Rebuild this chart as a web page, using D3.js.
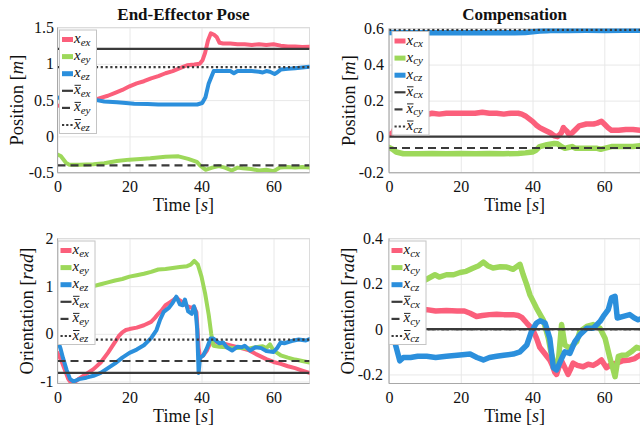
<!DOCTYPE html>
<html><head><meta charset="utf-8">
<script src="https://cdn.jsdelivr.net/npm/d3@7/dist/d3.min.js"></script>
<style>
body{margin:0;background:#fff}
svg{display:block}
</style>
</head><body>
<svg id="c" width="640" height="428"></svg>
<script>
// ---------------- DATA ----------------
const timeTicks = [0, 20, 40, 60];
const eePosTicks = [-0.5, 0, 0.5, 1, 1.5];
const compPosTicks = [-0.2, 0, 0.2, 0.4, 0.6];
const eeOriTicks = [-1, 0, 1, 2];
const compOriTicks = [-0.2, 0, 0.2, 0.4];

// End-effector position [t, value]
const eePosX = [[0,0.42],[2,0.44],[4,0.46],[6,0.47],[8,0.48],[10,0.5],[12,0.53],[14,0.56],[16,0.6],[18,0.64],[20,0.69],[22,0.73],[24,0.76],[26,0.8],[28,0.83],[30,0.87],[32,0.9],[34,0.94],[36,0.98],[38,0.99],[39.5,1.0],[40.3,1.05],[41,1.15],[41.8,1.32],[42.6,1.42],[43.5,1.4],[44.2,1.37],[45,1.29],[46,1.28],[48,1.28],[50,1.27],[52,1.27],[54,1.26],[56,1.27],[58,1.26],[60,1.27],[62,1.25],[64,1.24],[66,1.24],[68,1.23],[70,1.235]];
const eePosY = [[0,-0.25],[0.9,-0.27],[2.3,-0.36],[3.2,-0.39],[6,-0.39],[10,-0.385],[13,-0.37],[16.5,-0.34],[20,-0.32],[23,-0.31],[25.8,-0.3],[30,-0.28],[33.6,-0.275],[36.3,-0.31],[38.7,-0.35],[39.6,-0.4],[41.1,-0.46],[43,-0.43],[44.8,-0.41],[46.5,-0.43],[48.4,-0.47],[50,-0.43],[51.5,-0.44],[53.8,-0.45],[56,-0.47],[58,-0.46],[60,-0.48],[61.8,-0.43],[64,-0.42],[66,-0.43],[68,-0.42],[70,-0.43]];
const eePosZ = [[0,0.535],[2,0.52],[4,0.51],[6,0.51],[8,0.5],[10.9,0.5],[13,0.48],[16.5,0.47],[19,0.46],[21.3,0.45],[25,0.445],[28,0.44],[30,0.44],[34,0.44],[38.8,0.44],[40.2,0.46],[41.1,0.54],[42,0.73],[43.4,0.9],[45,0.9],[47,0.9],[48,0.9],[49,0.87],[50,0.9],[52,0.9],[54,0.9],[56,0.89],[57,0.88],[58,0.9],[59,0.89],[60.3,0.86],[61,0.88],[62,0.92],[64,0.93],[66,0.94],[68,0.95],[70,0.96]];
const eePosRef = [1.205, -0.40, 0.953];

// Compensation position
const compPosX = [[0,0.01],[1,0.02],[2,0.06],[3,0.09],[4,0.11],[6,0.12],[8,0.12],[10,0.12],[12,0.13],[14,0.125],[16,0.13],[18,0.13],[20,0.13],[22,0.13],[24,0.13],[26,0.135],[28,0.13],[30,0.13],[32,0.125],[34,0.13],[36,0.13],[37,0.125],[38,0.115],[39,0.1],[40,0.085],[41,0.065],[42,0.05],[43,0.04],[44,0.03],[45,0.02],[46,0.005],[47,0.0],[48,0.02],[48.6,0.05],[49,0.04],[49.6,0.03],[50.2,0.01],[51,0.02],[52,0.04],[53,0.06],[55,0.07],[57,0.07],[58,0.075],[59.2,0.085],[60,0.07],[61,0.05],[62,0.035],[64,0.035],[66,0.04],[68,0.04],[70,0.035]];
const compPosY = [[0,-0.06],[1,-0.07],[2,-0.085],[4,-0.095],[8,-0.095],[12,-0.093],[16,-0.095],[20,-0.094],[24,-0.095],[28,-0.093],[32,-0.095],[36,-0.093],[38,-0.09],[40,-0.085],[41,-0.075],[42,-0.055],[44,-0.045],[46,-0.038],[47,-0.04],[48,-0.055],[49,-0.065],[50,-0.06],[51,-0.055],[52,-0.065],[55,-0.065],[58,-0.065],[59,-0.07],[60,-0.065],[62,-0.055],[65,-0.055],[68,-0.055],[70,-0.05]];
const compPosZ = [[0,0.578],[5,0.577],[10,0.576],[15,0.577],[20,0.576],[25,0.577],[30,0.576],[35,0.577],[38,0.578],[40,0.582],[42,0.586],[44,0.588],[46,0.59],[50,0.589],[55,0.59],[60,0.589],[65,0.59],[70,0.59]];
const compPosRef = [0.0, -0.063, 0.592];

// End-effector orientation
const eeOriX = [[0,-0.4],[1,-0.55],[2,-0.75],[3,-0.95],[4,-1.05],[5,-1.0],[6,-0.94],[8,-0.84],[10,-0.74],[12,-0.6],[14,-0.4],[16,-0.17],[17,-0.05],[18,0.03],[19,0.08],[20,0.1],[22,0.13],[24,0.18],[26,0.25],[27,0.33],[28,0.42],[29,0.5],[30,0.6],[31,0.65],[32,0.7],[33,0.76],[34,0.7],[35,0.65],[36,0.58],[37,0.55],[38,0.55],[38.6,0.45],[39.2,-0.3],[39.6,-0.5],[40.5,-0.45],[41.5,-0.35],[42.5,-0.18],[43.5,-0.15],[45,-0.2],[47,-0.22],[50,-0.28],[53,-0.34],[55,-0.42],[58,-0.53],[60,-0.59],[62,-0.63],[64,-0.68],[66,-0.72],[68,-0.77],[70,-0.82]];
const eeOriY = [[0,0.68],[2,0.75],[4,0.85],[6,0.92],[8,0.97],[10,1.0],[12,1.04],[14,1.08],[16,1.12],[18,1.15],[20,1.2],[22,1.23],[24,1.26],[26,1.3],[28,1.35],[30,1.36],[32,1.38],[34,1.4],[36,1.42],[37,1.45],[38,1.53],[39,1.45],[40,1.2],[41,0.85],[42,0.4],[42.7,0.0],[43.3,-0.25],[45,-0.27],[47,-0.28],[49,-0.3],[51,-0.29],[53,-0.31],[55,-0.28],[57,-0.26],[58,-0.3],[59,-0.22],[60,-0.35],[61,-0.4],[62,-0.45],[64,-0.5],[66,-0.54],[68,-0.57],[70,-0.6]];
const eeOriZ = [[0,-0.12],[0.8,-0.3],[1.5,-0.5],[2.5,-0.75],[3.5,-0.95],[4.5,-1.0],[6,-0.95],[8,-0.92],[10,-0.88],[12,-0.82],[14,-0.72],[16,-0.62],[18,-0.5],[20,-0.4],[22,-0.33],[24,-0.24],[26,-0.09],[27.5,0.08],[28.5,0.3],[29.5,0.46],[31,0.55],[32,0.65],[33,0.78],[34,0.62],[34.8,0.6],[35.4,0.72],[36.3,0.47],[37.3,0.42],[37.9,0.58],[38.4,0.45],[38.8,0.1],[39.2,-0.82],[39.6,-0.5],[40.5,-0.45],[41.5,-0.3],[42.5,-0.1],[43.3,-0.1],[45,-0.2],[46,-0.18],[47,-0.28],[48.5,-0.35],[50,-0.27],[51.2,-0.28],[52,-0.25],[53.5,-0.35],[55,-0.28],[56.6,-0.3],[58,-0.36],[60,-0.38],[61,-0.3],[62,-0.18],[63,-0.2],[65,-0.15],[67,-0.12],[69,-0.14],[70,-0.11]];
const eeOriRef = [-0.82, -0.57, -0.12];

// Compensation orientation
const compOriX = [[0,0],[1,0.04],[2,0.07],[3,0.08],[5,0.08],[8,0.08],[10.5,0.086],[13,0.08],[16,0.082],[19,0.08],[21,0.08],[22.6,0.07],[24.4,0.056],[26,0.06],[28,0.064],[30,0.066],[32,0.064],[34.6,0.064],[36,0.06],[37,0.052],[38.4,0.027],[40,0.0],[41.1,-0.04],[42,-0.08],[43,-0.1],[44.8,-0.136],[45.5,-0.16],[46.2,-0.19],[46.7,-0.2],[47.3,-0.17],[48.1,-0.14],[49,-0.17],[49.9,-0.2],[50.5,-0.18],[51.3,-0.15],[52.5,-0.16],[54.1,-0.166],[55.5,-0.155],[56.9,-0.16],[58,-0.15],[59.2,-0.136],[60.6,-0.17],[62,-0.155],[63.4,-0.15],[65,-0.14],[67.1,-0.136],[68.5,-0.13],[69.4,-0.12],[70,-0.115]];
const compOriY = [[0,-0.02],[1,0.05],[2,0.12],[3,0.17],[5,0.19],[8,0.2],[10.5,0.22],[12.8,0.24],[14,0.23],[16,0.24],[18,0.24],[19.8,0.25],[21.5,0.255],[23.5,0.27],[25,0.28],[26.3,0.296],[27.5,0.28],[29,0.27],[31,0.275],[32.8,0.274],[34.6,0.264],[36.5,0.286],[37.4,0.24],[38.3,0.2],[39.3,0.15],[41.1,0.093],[43,0.04],[44.4,-0.04],[45.1,-0.1],[45.8,-0.14],[46.5,-0.15],[47.2,-0.14],[48.1,0.02],[49,-0.07],[50.4,-0.085],[51.3,-0.07],[52.3,-0.055],[53.2,-0.01],[55.1,0.012],[56.9,0.02],[58,0.01],[58.8,0.004],[60.2,-0.04],[61.6,-0.13],[62.5,-0.18],[63,-0.21],[63.9,-0.12],[65,-0.115],[66.2,-0.114],[67.5,-0.1],[69,-0.08],[70,-0.085]];
const compOriZ = [[0,0],[1,-0.02],[2,-0.08],[3,-0.14],[4,-0.125],[6,-0.125],[8,-0.12],[10.5,-0.12],[13,-0.125],[16,-0.12],[19,-0.115],[22.6,-0.11],[24.5,-0.125],[26.3,-0.136],[28,-0.125],[30,-0.12],[32,-0.115],[34.6,-0.11],[36.5,-0.1],[38.4,-0.07],[39.7,-0.01],[41.1,0.027],[42.1,0.037],[43.5,0.027],[44.8,-0.04],[45.8,-0.17],[46.7,-0.18],[48.1,-0.13],[49,-0.1],[50.4,-0.107],[51.8,-0.055],[53.2,-0.025],[55.1,0.004],[56.9,0.004],[58.8,0.034],[59.7,0.056],[61.1,0.086],[62,0.138],[63,0.145],[63.6,0.049],[65.3,0.056],[67.1,0.064],[68.3,0.05],[69.4,0.041],[70,0.045]];
const compOriRef = [0, 0, 0];

const seriesColors = ["#fb5f7b", "#9dd85a", "#2b8fdc"];
const refColor = "#3a3a3a";
const refDash = [null, "8,5", "2.2,2.6"];
const FONT = "'Liberation Serif', 'DejaVu Serif', serif";

// ---------------- LAYOUT ----------------
const panels = [
  {l:57.5, r:309.5, t:27.5, b:172.7, dom:[-0.5,1.5], yt:eePosTicks, series:[eePosX,eePosY,eePosZ], refs:eePosRef,
   title:"End-Effector Pose", lab:"Position", unit:"m", sub:"e", lw:4, labX:22.5, ypad:3.5, xlabY:211, legDx:2, legDy:2.5},
  {l:389, r:640.2, t:28.5, b:172.7, dom:[-0.2,0.6], yt:compPosTicks, series:[compPosX,compPosY,compPosZ], refs:compPosRef,
   title:"Compensation", lab:"Position", unit:"m", sub:"c", lw:5.5, labX:355, ypad:5, xlabY:211, legDx:3, legDy:3},
  {l:57.5, r:309.5, t:238.5, b:383.5, dom:[-1.042,2], yt:eeOriTicks, series:[eeOriX,eeOriY,eeOriZ], refs:eeOriRef,
   title:null, lab:"Orientation", unit:"rad", sub:"e", lw:4, labX:33, ypad:4, xlabY:421.5, legDx:0.5, legDy:2.5},
  {l:389, r:640.2, t:238.5, b:383.5, dom:[-0.24,0.4], yt:compOriTicks, series:[compOriX,compOriY,compOriZ], refs:compOriRef,
   title:null, lab:"Orientation", unit:"rad", sub:"c", lw:5.5, labX:353.5, ypad:6, xlabY:421.5, legDx:0, legDy:2.5}
];

const svg = d3.select("#c");

panels.forEach((p, i) => {
  const x = d3.scaleLinear().domain([0,70]).range([p.l, p.r]);
  const y = d3.scaleLinear().domain(p.dom).range([p.b, p.t]);
  const w = p.r - p.l, h = p.b - p.t;
  const g = svg.append("g");

  svg.append("clipPath").attr("id","clip"+i).append("rect")
    .attr("x",p.l).attr("y",p.t).attr("width",w).attr("height",h);

  // grid
  g.append("g").attr("transform",`translate(0,${p.b})`)
    .call(d3.axisBottom(x).tickValues(timeTicks).tickSize(-h).tickFormat(""))
    .call(s=>{s.select(".domain").remove(); s.selectAll("line").attr("stroke","#e8e8e8");});
  g.append("g").attr("transform",`translate(${p.l},0)`)
    .call(d3.axisLeft(y).tickValues(p.yt).tickSize(-w).tickFormat(""))
    .call(s=>{s.select(".domain").remove(); s.selectAll("line").attr("stroke","#e8e8e8");});

  g.append("rect").attr("x",p.l).attr("y",p.t).attr("width",w).attr("height",h)
    .attr("fill","none").attr("stroke","#dcdcdc").attr("stroke-width",1);

  // data lines
  const line = d3.line().x(d=>x(d[0])).y(d=>y(d[1]));
  const dg = g.append("g").attr("clip-path",`url(#clip${i})`);
  p.series.forEach((s, k) => {
    dg.append("path").datum(s).attr("d", line).attr("fill","none")
      .attr("stroke", seriesColors[k]).attr("stroke-width", p.lw)
      .attr("stroke-linejoin","round").attr("stroke-linecap","round");
  });
  p.refs.forEach((v, k) => {
    dg.append("path").datum([[0,v],[70,v]]).attr("d", line).attr("fill","none")
      .attr("stroke", refColor).attr("stroke-width", 2.2)
      .attr("stroke-dasharray", refDash[k]);
  });

  g.append("line").attr("x1",p.l).attr("x2",p.l).attr("y1",p.t).attr("y2",p.b).attr("stroke","#a8a8a8");
  g.append("line").attr("x1",p.l).attr("x2",p.r).attr("y1",p.b).attr("y2",p.b).attr("stroke","#a8a8a8");

  // tick labels
  g.append("g").attr("transform",`translate(0,${p.b})`)
    .call(d3.axisBottom(x).tickValues(timeTicks).tickSize(0).tickPadding(8).tickFormat(d=>String(d)))
    .call(s=>{s.attr("font-family",FONT).attr("font-size",16); s.select(".domain").remove();
      s.selectAll("text").style("font-family",FONT).style("font-size","16px").attr("fill","#111");});
  g.append("g").attr("transform",`translate(${p.l},0)`)
    .call(d3.axisLeft(y).tickValues(p.yt).tickSize(0).tickPadding(p.ypad).tickFormat(d=>String(d)))
    .call(s=>{s.attr("font-family",FONT).attr("font-size",16); s.select(".domain").remove();
      s.selectAll("text").style("font-family",FONT).style("font-size","16px").attr("fill","#111");});

  if (p.title) {
    svg.append("text").attr("x",(p.l+p.r)/2).attr("y",19.5).attr("text-anchor","middle")
      .style("font-family",FONT).style("font-size","17px").style("font-weight","bold").attr("fill","#111").text(p.title);
  }
  const xl = svg.append("text").attr("x",(p.l+p.r)/2).attr("y",p.xlabY).attr("text-anchor","middle")
    .style("font-family",FONT).style("font-size","18px").attr("fill","#111");
  xl.append("tspan").text("Time [");
  xl.append("tspan").style("font-style","italic").text("s");
  xl.append("tspan").text("]");
  const yl = svg.append("text").attr("transform",`translate(${p.labX},${(p.t+p.b)/2}) rotate(-90)`)
    .attr("text-anchor","middle").style("font-family",FONT).style("font-size","18.5px").attr("fill","#111");
  yl.append("tspan").text(p.lab + " [");
  yl.append("tspan").style("font-style","italic").text(p.unit);
  yl.append("tspan").text("]");

  // legend
  const lx = p.l + p.legDx, ly = p.t + p.legDy;
  const lg = svg.append("g");
  lg.append("rect").attr("x",lx).attr("y",ly).attr("width",37).attr("height",103.5)
    .attr("fill","#fff").attr("stroke","#c4c4c4").attr("stroke-width",1);
  const subs = ["x","y","z"];
  for (let k = 0; k < 6; k++) {
    const cy = ly + 9.5 + k * 17.1;
    if (k < 3) {
      lg.append("line").attr("x1",lx+2.5).attr("x2",lx+13.5).attr("y1",cy).attr("y2",cy)
        .attr("stroke",seriesColors[k]).attr("stroke-width",5);
    } else {
      lg.append("line").attr("x1",lx+2.5).attr("x2",lx+13.5).attr("y1",cy).attr("y2",cy)
        .attr("stroke",refColor).attr("stroke-width",2.2).attr("stroke-dasharray", k===3 ? null : (k===4?"8,5":"2.2,2"));
      lg.append("line").attr("x1",lx+15).attr("x2",lx+21.5).attr("y1",cy-5.5).attr("y2",cy-5.5)
        .attr("stroke","#111").attr("stroke-width",0.9);
    }
    const t = lg.append("text").attr("x",lx+14.5).attr("y",cy+3.5)
      .style("font-family",FONT).style("font-size","15px").style("font-style","italic").attr("fill","#111");
    t.append("tspan").text("x");
    t.append("tspan").style("font-size","11px").attr("dy",2.5).text(p.sub + subs[k % 3]);
  }
});
</script>
</body></html>
